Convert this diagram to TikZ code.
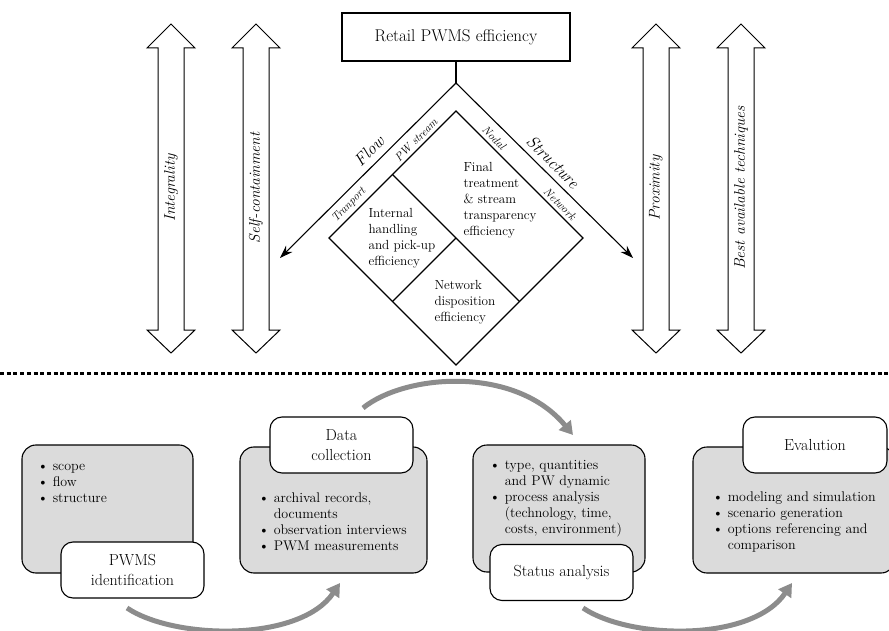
\documentclass[tikz,border=0pt]{standalone}
\usetikzlibrary{arrows.meta}
\tikzset{
  topbox/.style={draw, line width=1.1pt, minimum width=228pt, minimum height=48pt,
    font=\fontsize{17}{20}\selectfont},
  armarrow/.style={line width=1.1pt, -{Stealth[length=13pt,width=9pt]}},
  armlabel/.style={font=\fontsize{17}{20}\selectfont\itshape},
  sublabel/.style={font=\fontsize{11.5}{13}\selectfont\itshape},
  celltext/.style={anchor=west, align=left, font=\fontsize{13.2}{16}\selectfont},
  pillar/.style={draw, line width=1pt},
  pillarlabel/.style={rotate=90, font=\fontsize{15.5}{18}\selectfont\itshape},
  stagebox/.style={draw, line width=1.1pt, rounded corners=14pt, fill=black!14},
  titlebox/.style={draw, line width=1.1pt, rounded corners=12pt, fill=white,
    minimum width=143pt, minimum height=56pt, align=center,
    font=\fontsize{16}{20}\selectfont},
  bullets/.style={anchor=west, align=left, font=\fontsize{14}{16}\selectfont},
  cyclearrow/.style={draw=black!45, line width=5pt,
    -{Triangle[length=13pt,width=15pt]}}
}
\begin{document}
\begin{tikzpicture}[x=1pt,y=-1pt]
  \clip (0,0) rectangle (889,631);
  % upper part
  \node[topbox] (top) at (456,37) {Retail PWMS efficiency};
  \coordinate (apex) at (456,83);
  \coordinate (flowend) at (280,258);
  \coordinate (structend) at (633,258);
  \draw[line width=1.1pt] (top.south) -- (apex);
  \draw[armarrow] (apex) -- (flowend);
  \draw[armarrow] (apex) -- (structend);
  \coordinate (dtop) at (456,111);
  \coordinate (dleft) at (329,238);
  \coordinate (dright) at (583,238);
  \coordinate (dbot) at (456,365);
  \coordinate (dmid) at (456,238);
  \coordinate (dul) at (392.5,174.5);
  \coordinate (dlr) at (519.5,301.5);
  \coordinate (dll) at (392.5,301.5);
  \draw[line width=1.1pt] (dtop) -- (dright) -- (dbot) -- (dleft) -- cycle;
  \draw[line width=1.1pt] (dul) -- (dlr);
  \draw[line width=1.1pt] (dmid) -- (dll);
  \node[celltext] (final) at (460,200)
    {Final\\treatment\\\&\ stream\\transparency\\efficiency};
  \node[celltext] (internal) at (365,238)
    {Internal\\handling\\and pick-up\\efficiency};
  \node[celltext] (network) at (431,302)
    {Network\\disposition\\efficiency};
  \node[armlabel, rotate=45] (flow) at (369,151) {Flow};
  \node[armlabel, rotate=-45] (structure) at (553,162) {Structure};
  \node[sublabel, rotate=45] (pwstream) at (416,140) {PW stream};
  \node[sublabel, rotate=45] (tranport) at (349,205) {Tranport};
  \node[sublabel, rotate=-45] (nodal) at (494,138) {Nodal};
  \node[sublabel, rotate=-45] (netw) at (560,204) {Network};
  \foreach \px/\name in {171/Integrality, 256/Self-containment,
      656/Proximity, 741/Best available techniques} {
    \draw[pillar] (\px,24) -- (\px+24,48) -- (\px+13,48) -- (\px+13,330)
      -- (\px+24,330) -- (\px,353) -- (\px-24,330) -- (\px-13,330)
      -- (\px-13,48) -- (\px-24,48) -- cycle;
    \node[pillarlabel] (p\px) at (\px,188) {\name};
  }
  \draw[line width=3pt, dash pattern=on 4pt off 2.7pt] (0,373) -- (889,373);
  % lower part
  \node[stagebox, minimum width=171pt, minimum height=128pt] (ident) at (107.5,509) {};
  \node[stagebox, minimum width=187pt, minimum height=126pt] (collect) at (333.5,510) {};
  \node[stagebox, minimum width=172pt, minimum height=127pt] (status) at (559,508.5) {};
  \node[stagebox, minimum width=202pt, minimum height=126pt] (eval) at (794,510) {};
  \node[bullets] (identlist) at (34,483)
    {\textbullet\ scope\\\textbullet\ flow\\\textbullet\ structure};
  \node[bullets] (collectlist) at (255,522)
    {\textbullet\ archival records,\\\phantom{\textbullet\ }documents\\
     \textbullet\ observation interviews\\\textbullet\ PWM measurements};
  \node[bullets] (statuslist) at (486,498.5)
    {\textbullet\ type, quantities\\\phantom{\textbullet\ }and PW dynamic\\
     \textbullet\ process analysis\\\phantom{\textbullet\ }(technology, time,\\
     \phantom{\textbullet\ }costs, environment)};
  \node[bullets] (evallist) at (709,522)
    {\textbullet\ modeling and simulation\\\textbullet\ scenario generation\\
     \textbullet\ options referencing and\\\phantom{\textbullet\ }comparison};
  \node[titlebox] (identtitle) at (132.5,570) {PWMS\\identification};
  \node[titlebox] (collecttitle) at (341.5,445) {Data\\collection};
  \node[titlebox] (statustitle) at (561.5,572.5) {Status analysis};
  \node[titlebox, minimum width=144pt] (evaltitle) at (815,445) {Evalution};
  \coordinate (c1s) at (127,608);
  \coordinate (c1e) at (340,583);
  \coordinate (c2s) at (363,408);
  \coordinate (c2e) at (573,435);
  \coordinate (c3s) at (583,608);
  \coordinate (c3e) at (792,583);
  \draw[cyclearrow] (c1s) .. controls (175,640) and (300,642) .. (c1e);
  \draw[cyclearrow] (c2s) .. controls (405,374) and (515,365) .. (c2e);
  \draw[cyclearrow] (c3s) .. controls (631,640) and (752,642) .. (c3e);
\end{tikzpicture}
\end{document}
